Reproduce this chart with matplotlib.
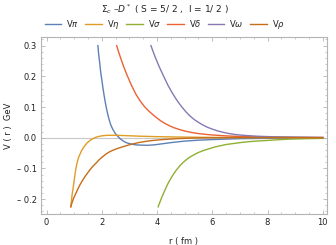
import matplotlib
matplotlib.use("Agg")
import matplotlib.pyplot as plt
from matplotlib.ticker import MultipleLocator

# values (r in fm, V in GeV)
r_pi = [1.86, 1.89, 1.93, 1.96, 2.0, 2.04, 2.08, 2.12, 2.16, 2.2, 2.24, 2.28, 2.32, 2.37, 2.42, 2.48, 2.54, 2.6, 2.65, 2.72, 2.78, 2.86, 2.95, 3.04, 3.14, 3.27, 3.4, 3.55, 3.7, 3.85, 4.0, 4.25, 4.5, 4.75, 5.0, 5.5, 6.0, 6.5, 7.0, 8.0, 9.0, 10.0]
v_pi = [0.30, 0.27, 0.24, 0.214, 0.19, 0.164, 0.14, 0.119, 0.10, 0.083, 0.068, 0.055, 0.043, 0.033, 0.024, 0.015, 0.008, 0.003, -0.002, -0.007, -0.011, -0.015, -0.018, -0.020, -0.022, -0.0235, -0.024, -0.0245, -0.0245, -0.0235, -0.022, -0.019, -0.016, -0.0135, -0.011, -0.008, -0.006, -0.0045, -0.003, -0.002, -0.001, -0.001]

r_eta = [0.88, 0.9, 0.92, 0.945, 0.97, 1.0, 1.03, 1.06, 1.09, 1.13, 1.17, 1.22, 1.27, 1.33, 1.4, 1.48, 1.57, 1.66, 1.75, 1.84, 1.93, 2.04, 2.15, 2.28, 2.41, 2.6, 2.8, 3.1, 3.38, 3.7, 4.0, 4.5, 5.0, 6.0, 7.0, 8.0, 10.0]
v_eta = [-0.225, -0.207, -0.19, -0.174, -0.16, -0.14, -0.12, -0.103, -0.088, -0.074, -0.062, -0.052, -0.042, -0.033, -0.024, -0.016, -0.009, -0.004, 0.0, 0.003, 0.005, 0.0065, 0.0075, 0.008, 0.008, 0.0078, 0.007, 0.006, 0.005, 0.0042, 0.0035, 0.0027, 0.002, 0.001, 0.0007, 0.0005, 0.0002]

r_sigma = [4.04, 4.1, 4.15, 4.25, 4.35, 4.42, 4.5, 4.6, 4.71, 4.83, 4.95, 5.07, 5.19, 5.35, 5.5, 5.7, 5.92, 6.1, 6.3, 6.5, 6.76, 7.0, 7.3, 7.6, 7.97, 8.3, 8.7, 9.0, 9.4, 9.7, 10.0]
v_sigma = [-0.225, -0.211, -0.199, -0.178, -0.158, -0.145, -0.133, -0.118, -0.104, -0.091, -0.080, -0.071, -0.063, -0.055, -0.048, -0.041, -0.035, -0.030, -0.026, -0.022, -0.019, -0.016, -0.013, -0.011, -0.009, -0.007, -0.005, -0.004, -0.003, -0.0025, -0.002]

r_delta = [2.54, 2.6, 2.7, 2.8, 2.9, 3.0, 3.1, 3.24, 3.38, 3.54, 3.7, 3.85, 4.0, 4.15, 4.3, 4.45, 4.6, 4.8, 5.0, 5.25, 5.5, 5.75, 6.0, 6.5, 7.0, 7.5, 8.0, 9.0, 10.0]
v_delta = [0.30, 0.282, 0.255, 0.23, 0.207, 0.186, 0.166, 0.141, 0.121, 0.102, 0.087, 0.075, 0.064, 0.054, 0.046, 0.039, 0.033, 0.027, 0.022, 0.017, 0.0135, 0.011, 0.009, 0.006, 0.004, 0.003, 0.002, 0.001, 0.0005]

r_omega = [3.78, 3.86, 3.95, 4.08, 4.23, 4.4, 4.59, 4.75, 4.9, 5.05, 5.19, 5.35, 5.5, 5.65, 5.8, 6.0, 6.2, 6.42, 6.64, 6.87, 7.1, 7.35, 7.6, 7.9, 8.2, 8.6, 9.0, 9.5, 10.0]
v_omega = [0.30, 0.28, 0.259, 0.231, 0.202, 0.17, 0.14, 0.118, 0.10, 0.084, 0.071, 0.059, 0.05, 0.042, 0.035, 0.028, 0.022, 0.017, 0.013, 0.010, 0.008, 0.0065, 0.005, 0.004, 0.003, 0.0025, 0.002, 0.0015, 0.001]

r_rho = [0.88, 0.91, 0.95, 0.98, 1.02, 1.05, 1.09, 1.14, 1.2, 1.29, 1.39, 1.47, 1.55, 1.62, 1.69, 1.8, 1.9, 2.03, 2.17, 2.3, 2.45, 2.6, 2.78, 3.0, 3.18, 3.38, 3.55, 3.74, 3.95, 4.2, 4.45, 4.7, 5.0, 5.3, 6.0, 7.0, 8.0, 10.0]
v_rho = [-0.225, -0.215, -0.205, -0.197, -0.19, -0.183, -0.176, -0.166, -0.155, -0.141, -0.127, -0.117, -0.107, -0.099, -0.092, -0.082, -0.072, -0.062, -0.052, -0.045, -0.039, -0.034, -0.029, -0.023, -0.019, -0.015, -0.0125, -0.010, -0.008, -0.006, -0.0045, -0.003, -0.002, -0.001, 0.0, 0.0005, 0.0005, 0.0003]

labels = [r"V$\pi$", r"V$\eta$", r"V$\sigma$", r"V$\delta$", r"V$\omega$", r"V$\rho$"]
colors = ["#5E81B5", "#E19C24", "#8FB032", "#EB6235", "#8778B3", "#C56E1A"]

yticks = [-0.2, -0.1, 0.0, 0.1, 0.2, 0.3]
yticklabels = ["\u2013 0.2", "\u2013 0.1", "0.0", "0.1", "0.2", "0.3"]
xticks = [0, 2, 4, 6, 8, 10]

txt = "#222222"
frame = "#b4b4b4"

fig = plt.figure(figsize=(3.36, 2.45), dpi=100)
ax = fig.add_axes([0.122, 0.127, 0.851, 0.722])

ax.axhline(0, color="#c8c8c8", lw=0.8, zorder=1)
series = [(r_pi, v_pi), (r_eta, v_eta), (r_sigma, v_sigma),
          (r_delta, v_delta), (r_omega, v_omega), (r_rho, v_rho)]
for (r, v), lab, c in zip(series, labels, colors):
    ax.plot(r, v, color=c, lw=1.0, label=lab, zorder=2)

ax.set_xlim(-0.2, 10.15)
ax.set_ylim(-0.248, 0.328)
ax.set_xticks(xticks)
ax.set_yticks(yticks)
ax.set_yticklabels(yticklabels)
ax.xaxis.set_minor_locator(MultipleLocator(0.5))
ax.yaxis.set_minor_locator(MultipleLocator(0.02))
ax.tick_params(which="both", direction="in", top=True, right=True,
               color=frame, labelsize=6, labelcolor=txt, pad=3)
ax.tick_params(which="major", length=3, width=0.6)
ax.tick_params(which="minor", length=1.6, width=0.5)
for s in ax.spines.values():
    s.set_color(frame)
    s.set_linewidth(0.8)

ax.set_xlabel("r ( fm )", fontsize=6, color=txt, labelpad=7)
ax.set_ylabel("V ( r )  GeV", fontsize=6, color=txt, labelpad=3)

fig.text(0.49, 0.963, "$\\Sigma_c$ \u2013$D^*$ ( S = 5/ 2 ,  I = 1/ 2 )",
         ha="center", va="center", fontsize=6.5, color=txt)
fig.legend(loc="center", bbox_to_anchor=(0.49, 0.9), ncol=6, frameon=False,
           fontsize=6, handlelength=2.0, handletextpad=0.6, columnspacing=0.75,
           labelcolor=txt)

fig.savefig("out.png", dpi=100)
